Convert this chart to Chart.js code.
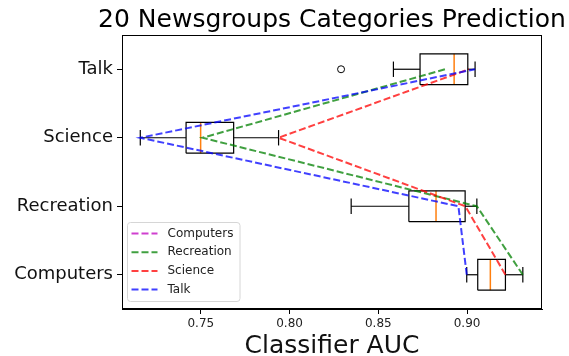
<!DOCTYPE html>
<html>
<head>
<meta charset="utf-8">
<script src="https://cdn.jsdelivr.net/npm/chart.js@4/dist/chart.umd.min.js"></script>
<style>
  html, body { margin: 0; padding: 0; background: #fff; }
  #wrap { width: 569px; height: 356px; }
</style>
</head>
<body>
<div id="wrap"><canvas id="c" width="569" height="356"></canvas></div>
<script>
// ---- Data ----
const categories = ['Computers', 'Recreation', 'Science', 'Talk'];
// box plot statistics per category (same order as categories)
const whiskerLow  = [0.8998, 0.8347, 0.7159, 0.8585];
const quartile1   = [0.9060, 0.8672, 0.7417, 0.8735];
const medians     = [0.9131, 0.8825, 0.7499, 0.8927];
const quartile3   = [0.9216, 0.8989, 0.7685, 0.9004];
const whiskerHigh = [0.9314, 0.9055, 0.7938, 0.9045];
const outliers    = [[], [], [], [0.829]];
// dashed series lines: AUC per category (Computers series is hidden under the others)
const seriesNames = ['Computers', 'Recreation', 'Science', 'Talk'];
const computersAUC  = [null, null, null, null];
const recreationAUC = [0.9314, 0.9055, 0.7510, 0.8876];
const scienceAUC    = [0.9216, 0.8990, 0.7938, 0.9010];
const talkAUC       = [0.8998, 0.8951, 0.7159, 0.9045];
const xTicks = [0.75, 0.80, 0.85, 0.90];
const xMin = 0.7056, xMax = 0.9422;

// ---- styling ----
const FONT = "'DejaVu Sans', sans-serif";
const seriesColors = ['rgba(191,0,191,0.75)', 'rgba(0,128,0,0.75)', 'rgba(255,0,0,0.75)', 'rgba(0,0,255,0.75)'];
const seriesValues = [computersAUC, recreationAUC, scienceAUC, talkAUC];
const BOX_HALF = 0.225, CAP_HALF = 0.1125;

const datasets = [];
const seg = (pts, color, width) => ({
  type: 'line', data: pts, borderColor: color, borderWidth: width,
  pointRadius: 0, fill: false, tension: 0, order: 10, isBox: true
});
categories.forEach((c, i) => {
  const y = i + 1;
  datasets.push(seg([
    {x: quartile1[i], y: y - BOX_HALF}, {x: quartile3[i], y: y - BOX_HALF},
    {x: quartile3[i], y: y + BOX_HALF}, {x: quartile1[i], y: y + BOX_HALF},
    {x: quartile1[i], y: y - BOX_HALF}], '#000', 1.2));
  datasets.push(seg([{x: whiskerLow[i], y}, {x: quartile1[i], y}], '#000', 1.2));
  datasets.push(seg([{x: quartile3[i], y}, {x: whiskerHigh[i], y}], '#000', 1.2));
  datasets.push(seg([{x: whiskerLow[i], y: y - CAP_HALF}, {x: whiskerLow[i], y: y + CAP_HALF}], '#000', 1.2));
  datasets.push(seg([{x: whiskerHigh[i], y: y - CAP_HALF}, {x: whiskerHigh[i], y: y + CAP_HALF}], '#000', 1.2));
  datasets.push(seg([{x: medians[i], y: y - BOX_HALF}, {x: medians[i], y: y + BOX_HALF}], '#ff7f0e', 1.5));
  if (outliers[i].length) {
    datasets.push({
      type: 'scatter', data: outliers[i].map(v => ({x: v, y})), showLine: false,
      pointStyle: 'circle', pointRadius: 3.5, pointBorderColor: '#000', pointBorderWidth: 1,
      pointBackgroundColor: 'rgba(0,0,0,0)', order: 10, isBox: true
    });
  }
});
seriesNames.forEach((name, s) => {
  datasets.push({
    type: 'line', label: name,
    data: categories.map((c, i) => ({x: seriesValues[s][i], y: i + 1})),
    borderColor: seriesColors[s], borderWidth: 2, borderDash: [7, 3],
    pointRadius: 0, fill: false, tension: 0, spanGaps: false, order: 4 - s
  });
});

const titlePlugin = {
  id: 'mplDecor',
  afterDraw(chart) {
    const {ctx, chartArea: a} = chart;
    ctx.save();
    // frame
    ctx.strokeStyle = '#000'; ctx.lineWidth = 1;
    ctx.strokeRect(Math.round(a.left) + 0.5, Math.round(a.top) + 0.5,
                   Math.round(a.right - a.left) - 1, Math.round(a.bottom - a.top) - 1);
    // title
    ctx.fillStyle = '#000';
    ctx.font = `25px ${FONT}`;
    ctx.textAlign = 'center'; ctx.textBaseline = 'alphabetic';
    ctx.fillText('20 Newsgroups Categories Prediction', (a.left + a.right) / 2, 27);
    // legend
    const lx = 127.5, ly = 222.5, lw = 112.5, lh = 79;
    ctx.beginPath();
    ctx.roundRect(lx, ly, lw, lh, 3);
    ctx.fillStyle = 'rgba(255,255,255,0.85)'; ctx.fill();
    ctx.strokeStyle = '#d6d6d6'; ctx.lineWidth = 1; ctx.stroke();
    ctx.font = `12px ${FONT}`;
    ctx.textAlign = 'left'; ctx.textBaseline = 'middle';
    seriesNames.forEach((name, s) => {
      const ry = 233.5 + s * 18.7;
      ctx.beginPath();
      ctx.setLineDash([7, 3]);
      ctx.strokeStyle = seriesColors[s]; ctx.lineWidth = 2;
      ctx.moveTo(131.5, ry); ctx.lineTo(157.5, ry); ctx.stroke();
      ctx.setLineDash([]);
      ctx.fillStyle = '#222';
      ctx.fillText(name, 167.5, ry);
    });
    ctx.restore();
  }
};

new Chart(document.getElementById('c'), {
  data: { datasets },
  options: {
    responsive: false, animation: false, devicePixelRatio: 1,
    layout: { padding: { left: 0, right: 27, top: 35, bottom: 0 } },
    plugins: { legend: { display: false }, tooltip: { enabled: false }, title: { display: false } },
    scales: {
      x: {
        type: 'linear', min: xMin, max: xMax,
        afterBuildTicks: s => { s.ticks = xTicks.map(v => ({value: v})); },
        afterFit: s => { s.height = 47; },
        ticks: { callback: v => v.toFixed(2), font: { family: FONT, size: 12 }, color: '#222', padding: 3, maxRotation: 0 },
        grid: { drawOnChartArea: false, drawTicks: true, tickLength: 5, tickColor: '#000' },
        border: { display: true, color: '#000', width: 1 },
        title: { display: true, text: 'Classifier AUC', font: { family: FONT, size: 25, lineHeight: 0.5 }, color: '#111', padding: { top: 0, bottom: 3 } }
      },
      y: {
        type: 'linear', min: 0.5, max: 4.5,
        afterBuildTicks: s => { s.ticks = categories.map((c, i) => ({value: i + 1})); },
        afterFit: s => { s.width = 122; },
        ticks: { callback: v => categories[Math.round(v) - 1] || '', font: { family: FONT, size: 18 }, color: '#111', padding: 4 },
        grid: { drawOnChartArea: false, drawTicks: true, tickLength: 5, tickColor: '#000' },
        border: { display: true, color: '#000', width: 1 }
      }
    }
  },
  plugins: [titlePlugin]
});
</script>
</body>
</html>
